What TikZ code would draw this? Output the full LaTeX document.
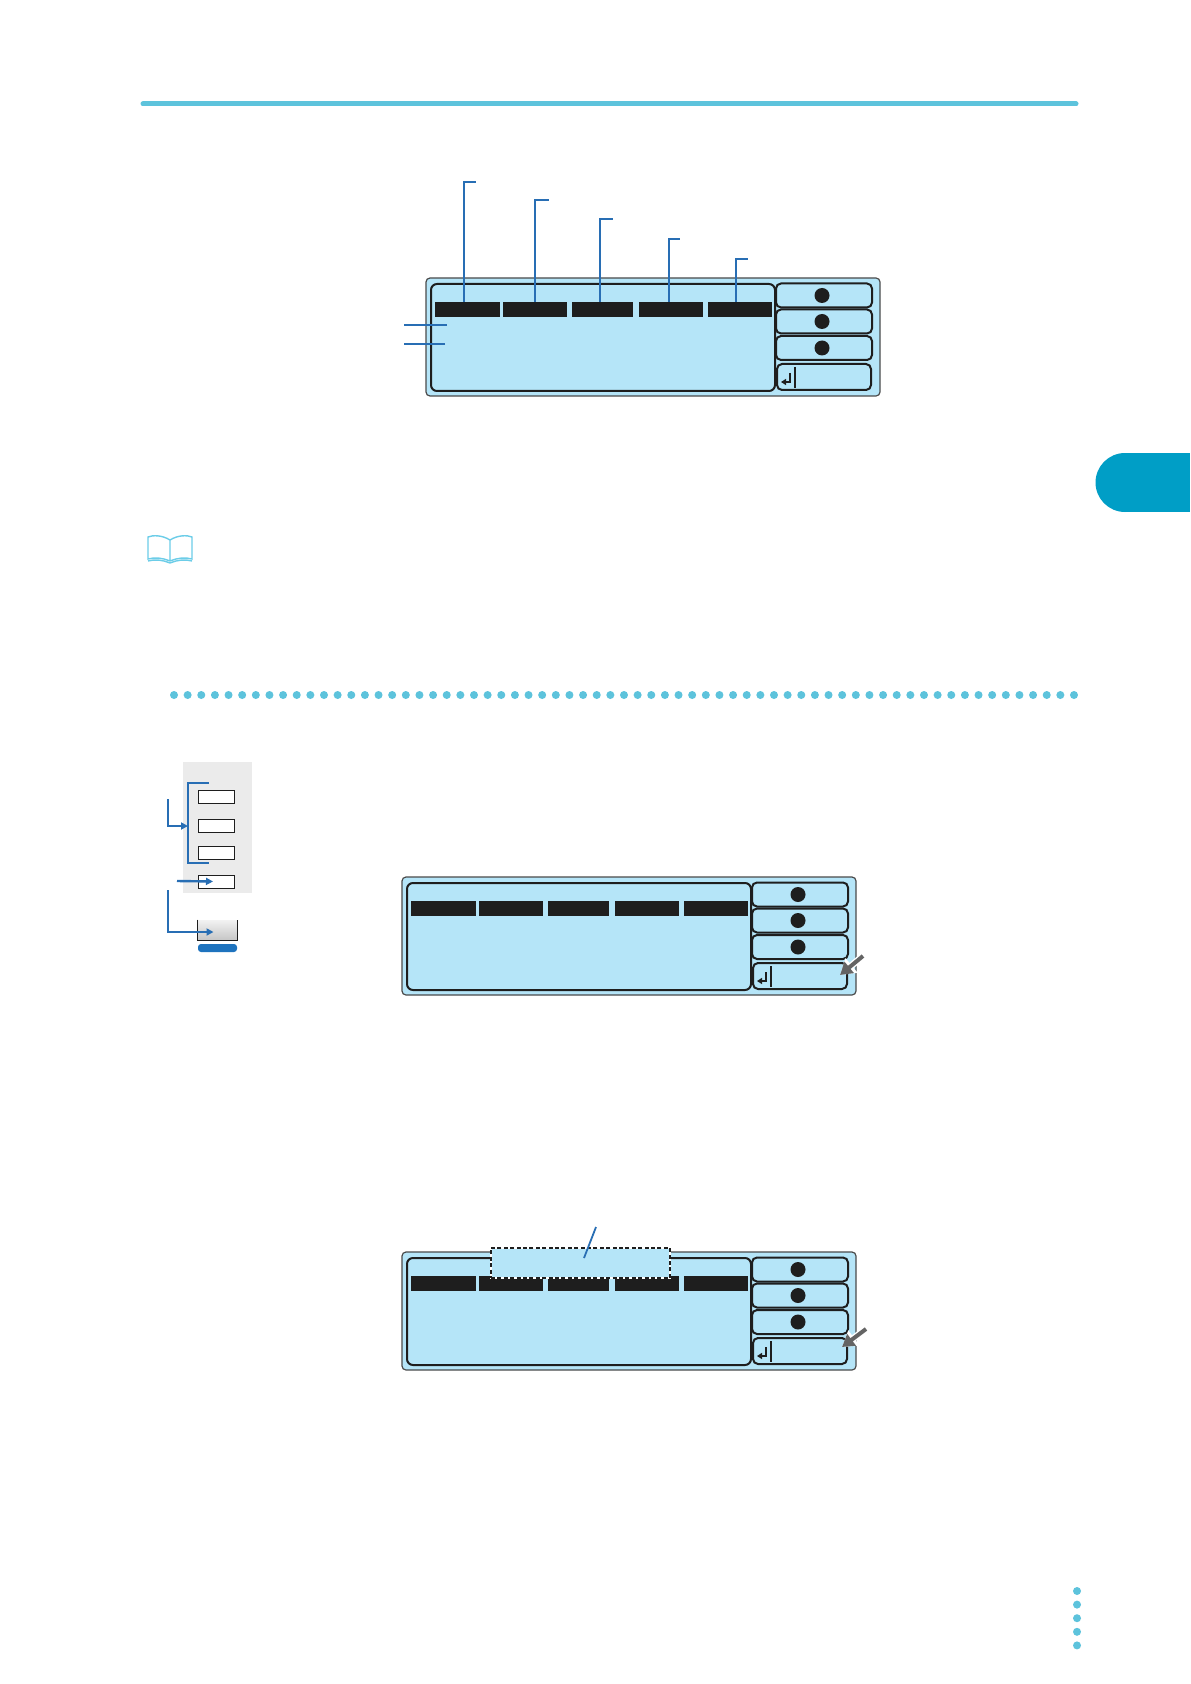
\documentclass[tikz,border=0pt]{standalone}
\usepackage{xcolor}
\usetikzlibrary{arrows.meta,positioning}
\definecolor{cyanrule}{RGB}{93,195,220}
\definecolor{tabblue}{RGB}{0,158,198}
\definecolor{lcd}{RGB}{181,229,248}
\definecolor{leadblue}{RGB}{40,110,180}
\definecolor{ink}{RGB}{30,30,30}
\definecolor{padgray}{RGB}{235,235,235}
\definecolor{arrowgray}{RGB}{100,100,100}
\definecolor{keyblue}{RGB}{30,115,190}
\definecolor{bookcyan}{RGB}{108,205,232}

\begin{document}
\begin{tikzpicture}[x=0.5pt,y=-0.5pt,
  lcdframe/.style={draw=ink!80,line width=0.6pt,fill=lcd,rounded corners=2pt,minimum width=227pt,minimum height=59pt,inner sep=0pt},
  lcdscreen/.style={draw=ink,line width=1pt,rounded corners=3pt,minimum width=172pt,minimum height=53.5pt,inner sep=0pt},
  bar/.style={fill=ink,minimum height=7.5pt,inner sep=0pt},
  btn/.style={draw=ink,line width=1pt,rounded corners=2.5pt,minimum width=48pt,minimum height=12pt,inner sep=0pt},
  knob/.style={fill=ink,circle,minimum size=7.5pt,inner sep=0pt},
  leader/.style={draw=leadblue,line width=0.9pt},
  pointer/.style={draw=arrowgray,line width=2pt,-{Triangle[length=6pt,width=7pt]},
    preaction={draw=white,line width=3.4pt,-{Triangle[length=7.5pt,width=9pt]}}},
  padkey/.style={draw=ink,fill=white,line width=0.5pt,minimum width=18pt,minimum height=6.5pt,inner sep=0pt},
  padarrow/.style={draw=leadblue,line width=1.2pt,-{Triangle[length=3.5pt,width=3.5pt]}},
  dashbox/.style={fill=lcd,draw=white,line width=0.8pt,minimum width=89.5pt,minimum height=15pt,inner sep=0pt,
    postaction={draw=ink,line width=0.8pt,dash pattern=on 2pt off 1.2pt}}]
  \fill[white] (0,0) rectangle (1190,1684);
  \useasboundingbox (0,0) rectangle (1190,1684);

  % page decoration
  \draw[cyanrule,line width=2.5pt,line cap=round] (143,104) -- (1076,104);
  \fill[tabblue] (1125,482.5) circle[radius=29.5];
  \fill[tabblue] (1125,453) rectangle (1190,512);
  \foreach \k in {0,...,66} \fill[cyanrule] ({174+13.636*\k},695) circle[radius=4];
  \foreach \k in {0,...,4} \fill[cyanrule] (1077,{1591+13.6*\k}) circle[radius=4];
  \draw[bookcyan,line width=0.7pt] (170,540) .. controls (162,535) and (153,535) .. (148,537) -- (148,559)
    .. controls (155,557) and (163,558) .. (170,561) .. controls (177,558) and (185,557) .. (192,559)
    -- (192,537) .. controls (187,535) and (178,535) .. (170,540) -- (170,561);
  \draw[bookcyan,line width=0.7pt] (148,561) .. controls (155,559) and (163,560) .. (170,563)
    .. controls (177,560) and (185,559) .. (192,561);

  % the three displays
  \foreach \p/\ox/\oy in {a/426/278,b/402/877,c/402/1252}{
    \begin{scope}[shift={(\ox,\oy)}]
      \node[lcdframe] (\p-frame) at (227,59) {};
      \node[lcdscreen] (\p-screen) at (177,59.5) {};
      \foreach \i/\cx/\w in {1/41.5/32.5,2/109/32,3/176.5/30.5,4/245/32,5/314/32}
        \node[bar,minimum width=\w pt] (\p-bar\i) at (\cx,31.5) {};
      \foreach \i/\cy in {1/17.5,2/43.5,3/70}{
        \node[btn] (\p-btn\i) at (398,\cy) {};
        \node[knob] (\p-knob\i) at (396,\cy) {};
      }
      \node[btn,minimum width=47pt,minimum height=13pt] (\p-btn4) at (398,99) {};
      \draw[ink,line width=0.8pt,-{Triangle[length=2.5pt,width=3pt]}] (364,95) -- (364,104) -- (355,104);
      \draw[ink,line width=0.8pt] (369,89) -- (369,110);
    \end{scope}
  }

  % callouts on the first display
  \foreach \i/\vx/\ty/\len in {1/464/182/12,2/535/200/14,3/600/219/13,4/669/239/11,5/736/259/12}{
    \coordinate (a-tick\i) at (\vx,\ty);
    \draw[leader] (a-tick\i |- a-bar\i.north) -- (a-tick\i) -- ++(\len,0);
  }
  \coordinate (a-row1) at (447,325);
  \coordinate (a-row2) at (445,344);
  \draw[leader] (a-row1) -- ++(-43,0);
  \draw[leader] (a-row2) -- ++(-41,0);

  % pointers on the second and third display
  \coordinate (b-aim) at (863,956);
  \draw[pointer] (b-aim) -- ([xshift=-4pt,yshift=0.5pt]b-btn4.east);
  \coordinate (c-aim) at (866,1329);
  \draw[pointer] (c-aim) -- ([xshift=-3pt,yshift=2pt]c-btn4.east);

  % selected field on the third display
  \node[dashbox] (c-field) at (580.5,1263) {};
  \coordinate (c-tag) at (596,1227);
  \draw[leader] (c-tag) -- (584,1258);

  % key pad on the left
  \node[fill=padgray,minimum width=34.5pt,minimum height=65.5pt,inner sep=0pt] (keypad) at (217.5,827.5) {};
  \foreach \i/\ky in {1/796.5,2/825.5,3/853,4/881.5}
    \node[padkey] (key\i) at (216,\ky) {};
  \draw[leadblue,line width=1.2pt] (209,783) -- (188,783) -- (188,863) -- (209,863);
  \node[top color=gray!10,bottom color=gray!45,minimum width=19.5pt,minimum height=10pt,inner sep=0pt] (tray) at (217.5,930) {};
  \draw[ink,line width=0.8pt] (tray.north west) -- (tray.south west) -- (tray.south east) -- (tray.north east);
  \node[fill=keyblue,rounded corners=1.5pt,minimum width=19.5pt,minimum height=4pt,inner sep=0pt] (keycap) at (217.5,948) {};
  \coordinate (bracket) at (188,826);
  \coordinate (feed1) at (168,799);
  \coordinate (feed2) at (177,881);
  \coordinate (feed3) at (168,890);
  \draw[padarrow] (feed1) |- (bracket);
  \draw[padarrow] (feed2) -- ([xshift=-1.5pt]key4.center);
  \draw[padarrow] (feed3) |- ([xshift=-2pt,yshift=-1pt]tray.center);
\end{tikzpicture}
\end{document}
